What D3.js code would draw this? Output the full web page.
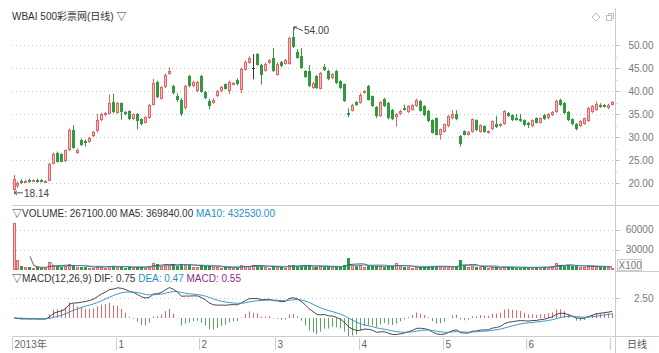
<!DOCTYPE html>
<html>
<head>
<meta charset="utf-8">
<script src="https://cdn.jsdelivr.net/npm/d3@7"></script>
<style>
body{margin:0;background:#fff;}
svg text{font-family:"Liberation Sans",Arial,"Noto Sans CJK SC",sans-serif;font-size:10px;}
</style>
</head>
<body>
<div id="chart"></div>
<script>
// daily bars, WBAI, 2013-11-22 .. 2014-07-01
var opens = [18.5,19.4,20.6,20.3,20.8,20.5,20.8,20.8,20.4,20.6,24.3,26.6,26.3,24.8,27.2,31.5,26.6,29.5,29.1,29.0,
30.2,31.3,33.8,34.8,35.1,37.6,35.3,37.4,35.4,35.7,33.9,35.1,33.9,33.2,34.2,37.1,42.0,38.4,40.9,43.8,
41.1,38.9,38.2,36.3,43.3,41.1,40.0,43.3,39.9,38.0,37.5,38.9,40.0,41.5,40.0,41.5,42.5,40.2,44.7,46.2,
45.0,48.1,45.8,44.5,46.2,47.3,43.6,46.4,46.0,46.0,51.7,48.6,47.6,44.4,44.5,40.7,43.3,40.6,45.2,44.5,
42.8,44.4,42.2,41.5,35.3,35.8,37.7,37.5,39.7,41.1,38.9,36.6,34.6,38.4,37.5,36.0,34.4,35.0,36.4,35.5,
36.0,36.8,37.9,36.8,35.8,33.7,34.1,30.6,31.2,32.4,34.1,35.0,30.3,31.3,30.6,31.2,33.7,31.2,32.4,31.0,
31.7,32.9,32.4,32.9,35.3,34.8,34.2,34.0,33.7,33.2,32.4,34.1,33.2,34.8,34.1,34.8,35.5,38.2,37.5,35.5,
33.9,32.9,32.4,32.9,33.5,35.5,36.0,37.0,37.0,36.3,37.1]
var highs = [21.8,20.4,20.9,20.8,21.0,20.9,21.0,20.9,20.7,24.5,26.7,26.9,26.5,27.4,31.9,32.6,27.6,29.7,29.5,30.1,
31.4,35.1,35.3,35.5,39.3,39.5,37.7,37.6,35.7,35.9,35.2,35.3,34.1,34.6,37.3,42.7,42.3,41.1,43.9,45.2,
41.4,39.6,38.5,41.4,43.6,42.3,42.3,43.6,40.1,38.4,38.5,40.3,41.2,41.7,42.3,42.0,42.8,45.2,46.7,47.6,
48.1,48.3,46.0,46.2,47.0,49.4,46.3,46.6,47.0,51.9,54.0,49.2,49.4,44.6,45.7,42.1,43.5,44.2,45.9,44.7,
44.0,44.6,42.4,41.7,36.3,37.3,37.9,39.6,40.3,41.4,39.1,36.8,37.9,38.6,37.7,36.2,35.3,36.0,37.1,37.0,
37.2,38.4,38.1,37.0,36.0,33.9,34.3,31.9,33.0,34.8,35.9,35.9,30.5,31.5,31.4,34.1,33.9,32.8,32.6,31.5,
33.7,34.6,33.1,35.9,35.5,35.0,35.1,35.1,33.9,33.4,33.9,34.3,34.3,35.1,35.3,35.7,38.2,38.4,37.7,35.7,
34.1,33.1,33.7,34.3,36.6,37.0,37.8,37.4,37.2,37.3,37.9]
var lows = [18.14,19.0,19.9,20.1,20.1,20.3,20.1,20.2,20.2,20.5,24.1,24.5,24.6,24.6,27.0,27.5,26.4,28.1,28.0,28.8,
30.0,31.1,33.5,34.6,35.0,35.2,35.1,33.8,34.8,33.7,33.7,31.7,32.6,33.0,34.0,36.9,38.5,38.2,40.7,43.6,
39.3,37.6,34.6,36.0,40.9,40.9,39.8,39.7,38.3,36.1,37.3,38.7,39.8,40.4,39.4,41.3,41.3,39.6,44.5,46.0,
42.6,45.6,41.5,44.3,46.0,44.2,43.4,45.2,45.8,45.8,49.4,47.1,44.9,42.9,40.9,40.5,40.5,40.4,44.4,42.4,
42.6,41.6,40.5,37.7,34.4,35.6,36.8,37.3,39.5,38.0,36.6,34.2,34.4,36.6,33.9,33.7,32.3,34.8,35.8,35.3,
35.8,36.6,35.6,34.6,33.3,30.8,30.4,29.5,31.0,32.2,33.9,33.7,28.0,30.4,30.4,31.0,31.3,31.0,31.0,30.8,
31.5,32.0,32.2,32.7,34.4,33.5,33.6,33.3,32.4,32.0,32.2,33.0,33.0,33.8,33.9,34.6,35.3,36.8,35.1,33.5,
32.6,31.5,32.2,32.7,33.3,35.3,35.8,36.4,36.5,36.1,36.9]
var closes = [20.9,20.1,20.1,20.6,20.3,20.7,20.3,20.4,20.6,24.3,26.4,24.7,24.7,27.2,31.6,27.7,27.3,28.3,28.7,29.9,
31.2,33.7,35.0,35.3,37.4,35.4,37.4,35.5,35.0,33.9,35.0,33.6,32.8,34.4,37.1,41.8,38.7,40.9,43.6,44.5,
39.7,38.2,35.0,41.1,41.1,42.0,42.0,39.9,38.6,36.9,38.2,40.0,40.9,40.6,42.0,41.8,41.5,44.9,46.4,47.3,
45.0,45.8,43.6,46.0,46.7,44.4,46.0,45.4,46.7,51.6,49.6,47.3,45.1,43.1,41.1,41.8,40.7,44.0,44.7,42.6,
43.8,41.8,40.7,37.9,34.8,37.0,37.0,39.3,40.0,38.2,36.8,34.6,37.7,36.8,34.1,33.9,35.1,35.8,36.0,36.8,
37.0,38.2,35.8,34.8,33.5,31.0,30.6,31.7,32.8,34.6,35.1,33.9,28.5,30.6,31.2,33.9,31.5,32.6,31.2,31.3,
33.5,32.2,32.9,35.7,34.6,33.7,33.8,33.9,32.6,32.6,33.7,33.2,34.1,34.0,35.1,35.5,38.0,37.0,35.3,33.7,
32.8,31.9,33.5,34.1,36.4,36.8,37.3,36.6,36.7,37.1,37.7]
// volume in x100 shares
var volumes = [71000,14000,5000,3500,4000,3000,3500,2500,3000,11000,6500,5500,4500,5000,8000,7500,4000,4500,3500,3000,
3000,5500,4500,3000,6000,5500,3500,4000,3000,3500,2500,4500,3500,3000,6000,9500,8500,6000,7500,6500,
8000,6000,9000,7500,6500,4500,4000,6500,5000,6000,4000,3500,3000,3500,3500,2500,3000,6500,6000,5000,
7000,6000,5500,3500,3000,5500,4000,3500,3000,6500,7500,5000,6000,5500,6500,4000,4500,5000,4000,4500,
3500,4500,4500,6500,17000,7000,5500,6500,4500,5500,5000,5500,5000,4500,5500,5000,9500,6000,3500,3500,
3000,3500,4000,4000,4500,5500,6000,4500,4000,4000,3500,5000,15000,7000,4500,5500,4500,3500,4000,3000,
4000,3500,2500,4500,3500,3500,3000,2500,3500,3000,3000,3500,3000,4500,4000,5000,10000,6500,6000,6500,
5500,5800,4500,4000,5500,4982,4200,3800,3600,4200,2671]

var priceTicks = [20,25,30,35,40,45,50]
var volTicks = [30000,60000]
var macdTicks = [2.5]
var monthIdx = [0,26,47,66,87,108,129,150]
var monthLabels = ["2013年","1","2","3","4","5","6",""]

var W = 659, H = 353
var left = 12, axisX = 615
var svg = d3.select("#chart").append("svg").attr("width",W).attr("height",H)

var x = d3.scaleLinear().domain([0,closes.length-1]).range([14,612])
var yP = d3.scaleLinear().domain([20,50]).range([183.3,45.3])
var yV = d3.scaleLinear().domain([0,60000]).range([269.5,229.5])
var yM = d3.scaleLinear().domain([0,2.5]).range([318,298])

var RED = "#e2656a", PINK = "#f7baba", GREEN = "#2f9b3c"

// frame lines
svg.append("line").attr("x1",axisX+0.5).attr("x2",axisX+0.5).attr("y1",8).attr("y2",H).attr("stroke","#ccc")
svg.append("line").attr("x1",left).attr("x2",W).attr("y1",205.5).attr("y2",205.5).attr("stroke","#ccc")
svg.append("line").attr("x1",axisX).attr("x2",W).attr("y1",271.5).attr("y2",271.5).attr("stroke","#ccc")
svg.append("line").attr("x1",left).attr("x2",W).attr("y1",336.5).attr("y2",336.5).attr("stroke","#ccc")

function grid(scale, ticks){
	svg.append("g").selectAll("line").data(ticks).enter().append("line")
		.attr("x1",left).attr("x2",axisX)
		.attr("y1",d=>Math.round(scale(d))+0.5).attr("y2",d=>Math.round(scale(d))+0.5)
		.attr("stroke","#c8c8c8").attr("stroke-dasharray","1,3")
}
grid(yP, priceTicks)
grid(yV, volTicks)
grid(yM, macdTicks)

// right axes
function rightAxis(scale, ticks, fmt){
	var g = svg.append("g").attr("transform","translate("+(axisX+0.5)+",0)")
	g.selectAll("line").data(ticks).enter().append("line")
		.attr("x1",0).attr("x2",4)
		.attr("y1",d=>Math.round(scale(d))+0.5).attr("y2",d=>Math.round(scale(d))+0.5)
		.attr("stroke","#bbb")
	g.selectAll("text").data(ticks).enter().append("text")
		.attr("x",38).attr("y",d=>scale(d)).attr("dy","0.36em")
		.attr("text-anchor","end").attr("fill","#777").text(fmt)
}
rightAxis(yP, priceTicks, d3.format(".2f"))
rightAxis(yV, volTicks, d3.format("d"))
rightAxis(yM, macdTicks, d3.format(".2f"))
// minor price ticks
svg.append("g").selectAll("line").data(d3.range(22.5,50,5)).enter().append("line")
	.attr("x1",axisX+0.5).attr("x2",axisX+3)
	.attr("y1",d=>Math.round(yP(d))+0.5).attr("y2",d=>Math.round(yP(d))+0.5)
	.attr("stroke","#ddd")

// candles
var candles = svg.append("g").selectAll("g").data(closes).enter().append("g")
candles.each(function(c,i){
	var g = d3.select(this)
	var n = Math.floor(x(i)), o = opens[i]
	var col = c > o ? RED : (c < o ? GREEN : "#333")
	g.append("line").attr("x1",n+0.5).attr("x2",n+0.5)
		.attr("y1",yP(highs[i])).attr("y2",yP(lows[i])).attr("stroke",col)
	var top = Math.round(yP(Math.max(o,c))), bot = Math.round(yP(Math.min(o,c)))
	if(c === o){
		g.append("line").attr("x1",n-1).attr("x2",n+2).attr("y1",top+0.5).attr("y2",top+0.5).attr("stroke",col)
	}else{
		g.append("rect").attr("x",n-0.5).attr("y",top+0.5).attr("width",2).attr("height",Math.max(1,bot-top-1))
			.attr("fill",c > o ? PINK : GREEN).attr("stroke",col)
	}
})

// max / min labels
var iMax = d3.maxIndex(highs), iMin = d3.minIndex(lows)
var mx = x(iMax), my = yP(highs[iMax])
svg.append("path").attr("d","M"+(mx+1)+","+my+"l9,4").attr("stroke","#555").attr("fill","none")
svg.append("path").attr("d","M"+(mx+1)+","+my+"l3,0M"+(mx+1)+","+my+"l0,3").attr("stroke","#555")
svg.append("text").attr("x",mx+11).attr("y",my+7).attr("fill","#444").text(d3.format(".2f")(highs[iMax]))
var nx = x(iMin), ny = yP(lows[iMin]) + 1
svg.append("path").attr("d","M"+(nx)+","+ny+"h9M"+nx+","+ny+"l3,-2M"+nx+","+ny+"l3,2").attr("stroke","#555").attr("fill","none")
svg.append("text").attr("x",nx+10).attr("y",ny+4).attr("fill","#444").text(d3.format(".2f")(lows[iMin]))

// volume
var vg = svg.append("g")
volumes.forEach(function(v,i){
	var n = Math.floor(x(i)), up = closes[i] >= opens[i]
	var top = Math.round(yV(Math.min(v,70000)))
	vg.append("rect").attr("x",n-0.5).attr("y",top+0.5).attr("width",2)
		.attr("height",Math.max(0.5,Math.round(yV(0))-top-1))
		.attr("fill",up ? PINK : GREEN).attr("stroke",up ? RED : GREEN)
})
function ma(arr, n){
	return arr.map((d,i)=> i < n-1 ? null : d3.mean(arr.slice(i-n+1,i+1)))
}
var ma5 = ma(volumes,5), ma10 = ma(volumes,10)
var vline = d3.line().defined(d=>d!==null).x((d,i)=>x(i)).y(d=>yV(d))
svg.append("path").datum(ma5).attr("d",vline).attr("fill","none").attr("stroke","#333").attr("stroke-width",0.8)
svg.append("path").datum(ma10).attr("d",vline).attr("fill","none").attr("stroke","#2a9bd0").attr("stroke-width",0.8)

// MACD(12,26,9)
function ema(arr, n){
	var k = 2/(n+1), out = [], prev = arr[0]
	arr.forEach((d,i)=>{ prev = i===0 ? d : prev + k*(d-prev); out.push(prev) })
	return out
}
var e12 = ema(closes,12), e26 = ema(closes,26)
var dif = e12.map((d,i)=>d-e26[i])
var dea = [0]
dif.forEach((d,i)=>{ if(i>0) dea.push(dea[i-1] + 0.2*(d-dea[i-1])) })
var hist = dif.map((d,i)=>2*(d-dea[i]))
svg.append("g").selectAll("line").data(hist).enter().append("line")
	.attr("x1",(d,i)=>Math.floor(x(i))+0.5).attr("x2",(d,i)=>Math.floor(x(i))+0.5)
	.attr("y1",yM(0)).attr("y2",d=>yM(d))
	.attr("stroke",d=>d>=0 ? "#e0666a" : "#5aa85a")
var mline = d3.line().x((d,i)=>x(i)).y(d=>yM(d))
svg.append("path").datum(dif).attr("d",mline).attr("fill","none").attr("stroke","#333").attr("stroke-width",0.9)
svg.append("path").datum(dea).attr("d",mline).attr("fill","none").attr("stroke","#2b8dc4").attr("stroke-width",0.9)

// time axis
var tg = svg.append("g")
monthIdx.forEach(function(m,k){
	var tx = Math.round(x(m) - 2) + 0.5
	tg.append("line").attr("x1",tx).attr("x2",tx).attr("y1",338).attr("y2",350).attr("stroke","#ccc")
	tg.append("text").attr("x",tx+2).attr("y",348).attr("fill","#666").text(monthLabels[k])
})
svg.append("text").attr("x",627).attr("y",348).attr("fill","#555").text("日线")

// titles
svg.append("text").attr("x",12).attr("y",19.5).attr("fill","#333").text("WBAI 500彩票网(日线) ▽")
var t1 = svg.append("text").attr("x",12).attr("y",216.5).attr("fill","#333")
t1.append("tspan").text("▽VOLUME: 267100.00 MA5: 369840.00 ")
t1.append("tspan").attr("fill","#1f8fc4").text("MA10: 432530.00")
var t2 = svg.append("text").attr("x",12).attr("y",282).attr("fill","#333")
t2.append("tspan").text("▽MACD(12,26,9) DIF: 0.75 ")
t2.append("tspan").attr("fill","#1f8fc4").text("DEA: 0.47 ")
t2.append("tspan").attr("fill","#8e2a8e").text("MACD: 0.55")

// x100 box
svg.append("rect").attr("x",617.5).attr("y",259.5).attr("width",24).attr("height",11).attr("fill","#fff").attr("stroke","#ccc")
svg.append("text").attr("x",618.5).attr("y",268.5).attr("fill","#777").text("X100")

// corner icons
svg.append("path").attr("d","M596,13l4,4l-4,4l-4,-4z").attr("fill","none").attr("stroke","#bbb")
svg.append("rect").attr("x",606.5).attr("y",15.5).attr("width",5).attr("height",5).attr("fill","none").attr("stroke","#bbb")
svg.append("path").attr("d","M608.5,15.5v-2h5v5h-2").attr("fill","none").attr("stroke","#bbb")
</script>
</body>
</html>
